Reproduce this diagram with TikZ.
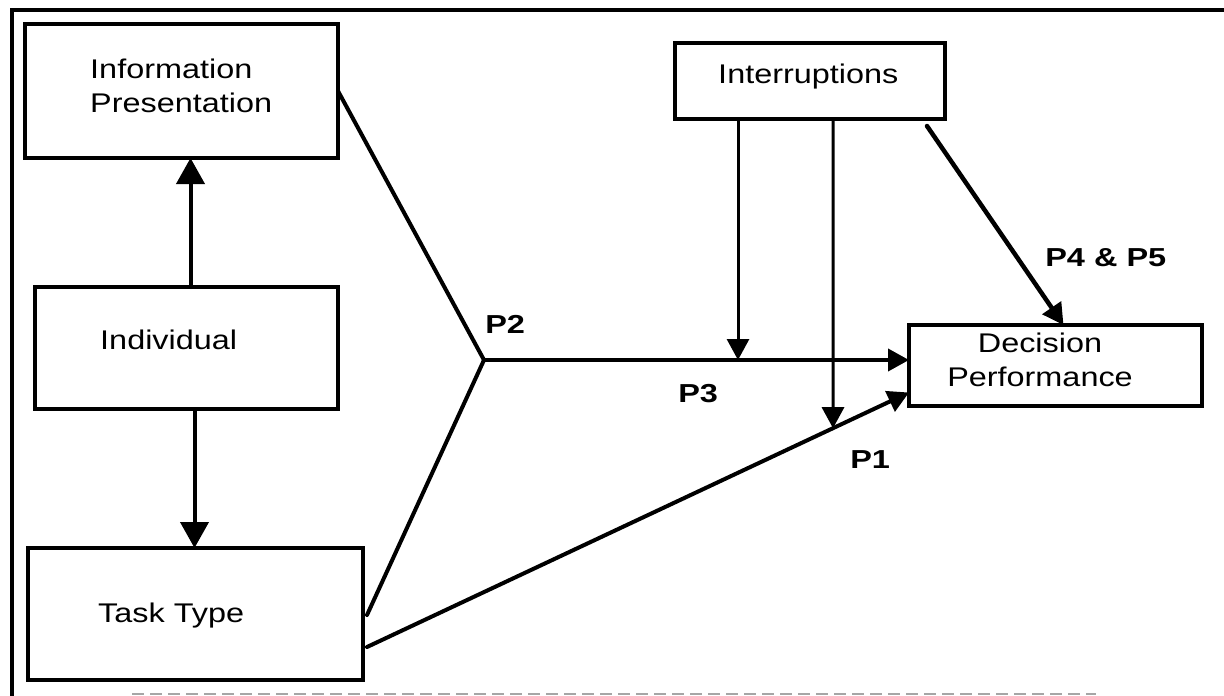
\documentclass[tikz,border=0pt]{standalone}
\usepackage{fontspec}
\setmainfont{Liberation Sans}
\usetikzlibrary{arrows.meta,calc}

\tikzset{
  box/.style={draw, line width=3.5pt, inner sep=0pt, outer sep=0pt},
  txt/.style={font=\fontsize{27}{33.5}\selectfont, inner sep=0pt, xscale=1.2},
  plabel/.style={font=\fontsize{26}{30}\selectfont\bfseries, inner sep=0pt, xscale=1.25},
  link/.style={line width=4pt, line cap=round},
  thin link/.style={line width=3pt},
  bigarrow/.style={-{Triangle[length=26pt, width=28pt]}},
  arrow/.style={-{Triangle[length=21pt, width=22pt]}},
}

\begin{document}
\begin{tikzpicture}[x=1pt, y=-1pt]
  % canvas
  \useasboundingbox (0,0) rectangle (1224,696);

  % frame (top and left edges, faded bottom rule)
  \draw[line width=3.5pt] (1224,10) -- (12,10) -- (12,696);
  \draw[gray!70, line width=2pt, dash pattern=on 12pt off 6pt] (132,694) -- (1096,694);

  % boxes
  \node[box, minimum width=313pt, minimum height=134pt] (ip)   at (181.5,91)   {};
  \node[box, minimum width=303pt, minimum height=122pt] (ind)  at (186.5,348)  {};
  \node[box, minimum width=335pt, minimum height=132pt] (tt)   at (195.5,614)  {};
  \node[box, minimum width=270pt, minimum height=76pt]  (intr) at (810,81)     {};
  \node[box, minimum width=293pt, minimum height=81pt]  (dp)   at (1055.5,365.5) {};

  % box texts (base anchor of a two-line node sits on its last line)
  \node[txt, anchor=base west, align=left] (ipt) at (90,112) {Information\\Presentation};
  \node[txt, anchor=base west] (indt) at (100,349) {Individual};
  \node[txt, anchor=base west] (ttt) at (98,622) {Task Type};
  \node[txt, anchor=base west] (intrt) at (718,83) {Interruptions};
  \node[txt, anchor=base, align=center] (dpt) at (1040,386) {Decision\\Performance};

  % proposition labels
  \node[plabel, anchor=base west] (p2) at (485,333) {P2};
  \node[plabel, anchor=base west] (p3) at (678,402) {P3};
  \node[plabel, anchor=base west] (p1) at (850,468) {P1};
  \node[plabel, anchor=base west] (p45) at (1045,266) {P4 \& P5};

  % individual drives presentation and task type
  \draw[link, bigarrow] ([shift={(4,0)}]ind.north) -- ([shift={(4,0)}]ind.north |- ip.south);
  \draw[link, bigarrow] ([shift={(8,0)}]ind.south) -- ([shift={(8,0)}]ind.south |- tt.north);

  % fit of presentation and task (P2) towards performance
  \coordinate (J) at (484,360);
  \draw[link] (ip.east) -- (J);
  \draw[link] ([shift={(4,1)}]tt.east) -- (J);
  \draw[link, arrow] (J) -- (J -| dp.west);

  % direct task effect (P1)
  \coordinate (p1s) at ([shift={(4,33)}]tt.east);
  \coordinate (p1e) at ([shift={(0,27)}]dp.west);
  \draw[link, arrow] (p1s) -- (p1e);

  % interruptions moderating P3 and P1, and direct effect P4 & P5
  \coordinate (v1s) at ([shift={(-72,0)}]intr.south);
  \coordinate (v2s) at ([shift={(23,0)}]intr.south);
  \coordinate (v2b) at ([shift={(23,400)}]intr.south);
  \draw[thin link, arrow] (v1s) -- (v1s |- J);
  \draw[thin link, arrow] (v2s) -- (intersection of v2s--v2b and p1s--p1e);
  \draw[link, line width=4.5pt, arrow] ([shift={(-18,7)}]intr.south east) -- ([shift={(8,0)}]dp.north);
\end{tikzpicture}
\end{document}
